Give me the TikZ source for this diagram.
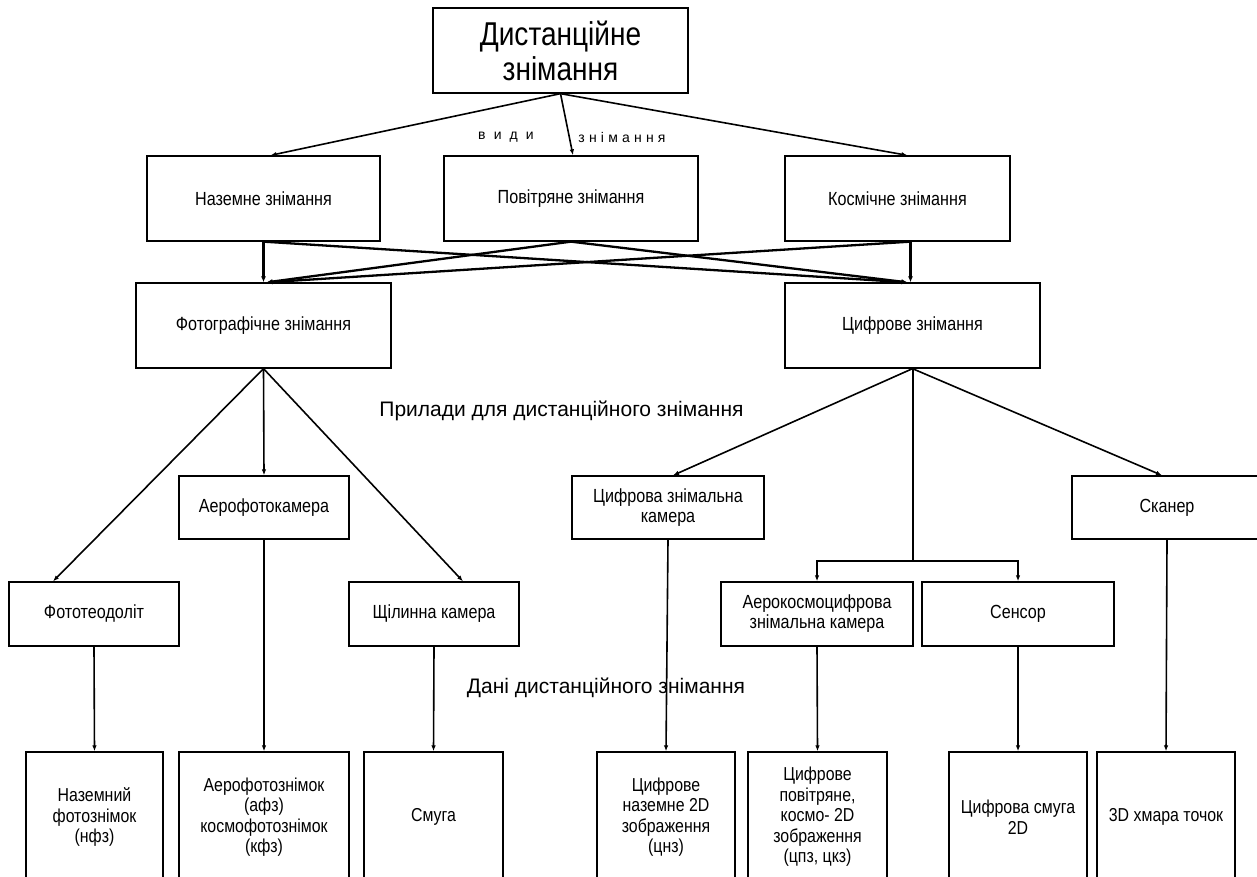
\documentclass[tikz,border=0pt]{standalone}
\usepackage{fontspec}
\setmainfont{Liberation Sans}
\newfontfamily\nar[FakeStretch=0.85]{Liberation Sans}
\newfontfamily\spc[LetterSpace=30]{Liberation Sans}
\usetikzlibrary{arrows.meta}
\begin{document}
\begin{tikzpicture}[x=1pt,y=-1pt,
  box/.style={draw, line width=1.3pt, inner sep=0pt, align=center, font=\nar\fontsize{19}{20}\selectfont},
  bbox/.style={box, minimum height=130pt, font=\nar\fontsize{18.7}{20.5}\selectfont},
  arr/.style={line width=1.6pt, -{Latex[length=6pt,width=4.5pt]}},
  thick arr/.style={line width=2.3pt, -{Latex[length=6pt,width=5pt]}},
  lbl/.style={font=\fontsize{21}{24}\selectfont, inner sep=0pt}]
\useasboundingbox (0,0) rectangle (1257,877);
\fill[white] (0,0) rectangle (1257,877);
% top
\node[box, minimum width=255pt, minimum height=85pt, font=\nar\fontsize{33}{35}\selectfont] (top) at (560.5,50.5) {Дистанційне\\знімання};
% row 2
\node[box, minimum width=233pt, minimum height=85pt] (naz) at (263.5,198.5) {Наземне знімання};
\node[box, minimum width=254pt, minimum height=85pt] (pov) at (571,198.5) {Повітряне знімання};
\node[box, minimum width=225pt, minimum height=85pt] (kos) at (897.5,198.5) {Космічне знімання};
% row 3
\node[box, minimum width=255pt, minimum height=85pt] (foto) at (263.5,325.5) {Фотографічне знімання};
\node[box, minimum width=255pt, minimum height=85pt] (cyfr) at (912.5,325.5) {Цифрове знімання};
% instruments
\node[box, minimum width=170pt, minimum height=63pt] (aerocam) at (264,507.5) {Аерофотокамера};
\node[box, minimum width=192pt, minimum height=63pt] (czk) at (668,507.5) {Цифрова знімальна\\камера};
\node[box, minimum width=190pt, minimum height=63pt] (scan) at (1167,507.5) {Сканер};
\node[box, minimum width=170pt, minimum height=64pt] (teod) at (94,614) {Фототеодоліт};
\node[box, minimum width=170pt, minimum height=64pt] (shch) at (434,614) {Щілинна камера};
\node[box, minimum width=192pt, minimum height=64pt] (aks) at (817,614) {Аерокосмоцифрова\\знімальна камера};
\node[box, minimum width=192pt, minimum height=64pt] (sens) at (1018,614) {Сенсор};
% data
\node[bbox, minimum width=137pt] (b1) at (94.5,817) {Наземний\\фотознімок\\(нфз)};
\node[bbox, minimum width=170pt] (b2) at (264,817) {Аерофотознімок\\(афз)\\космофотознімок\\(кфз)};
\node[bbox, minimum width=139pt] (b3) at (433.5,817) {Смуга};
\node[bbox, minimum width=138pt] (b4) at (666,817) {Цифрове\\наземне 2D\\зображення\\(цнз)};
\node[bbox, minimum width=139pt] (b5) at (817.5,817) {Цифрове\\повітряне,\\космо- 2D\\зображення\\(цпз, цкз)};
\node[bbox, minimum width=138pt] (b6) at (1018,817) {Цифрова смуга\\2D};
\node[bbox, minimum width=138pt] (b7) at (1166,817) {3D хмара точок};
% labels
\node[lbl] (l1) at (561.5,411) {Прилади для дистанційного знімання};
\node[lbl] (l2) at (606,688) {Дані дистанційного знімання};
\node[font=\spc\fontsize{14}{16}\selectfont, inner sep=0pt] (l3) at (506,137) {в и д и};
\node[font=\spc\fontsize{14}{16}\selectfont, inner sep=0pt] (l4) at (622,137) {знімання};
% top arrows
\draw[arr] (top.south) -- ([xshift=7pt]naz.north);
\draw[arr] (top.south) -- ([xshift=2pt]pov.north);
\draw[arr] (top.south) -- ([xshift=10pt]kos.north);
% row2 -> row3
\coordinate (kb) at ([xshift=13pt]kos.south);
\draw[thick arr] (naz.south) -- (foto.north);
\draw[thick arr] (naz.south) -- ([xshift=-5pt]cyfr.north);
\draw[thick arr] (pov.south) -- ([xshift=3pt]foto.north);
\draw[thick arr] (pov.south) -- ([xshift=-5pt]cyfr.north);
\draw[thick arr] (kb) -- ([xshift=3pt]foto.north);
\draw[thick arr] (kb) -- (kb |- cyfr.north);
% row3 -> instruments
\draw[arr] (foto.south) -- (aerocam.north);
\draw[arr] (foto.south) -- ([xshift=-41pt]teod.north);
\draw[arr] (foto.south) -- ([xshift=29pt]shch.north);
\draw[arr] (cyfr.south) -- ([xshift=5pt]czk.north);
\draw[arr] (cyfr.south) -- ([xshift=-5pt]scan.north);
\coordinate (j) at (912.5,561);
\draw[line width=2pt] (cyfr.south) -- (j);
\draw[arr] (j) -| (aks.north);
\draw[arr] (j) -| (sens.north);
% instruments -> data
\draw[arr] (teod.south) -- (b1.north);
\draw[arr] (aerocam.south) -- (b2.north);
\draw[arr] (shch.south) -- (b3.north);
\draw[arr] (czk.south) -- (b4.north);
\draw[arr] (aks.south) -- (b5.north);
\draw[arr] (sens.south) -- (b6.north);
\draw[arr] (scan.south) -- (b7.north);
\end{tikzpicture}
\end{document}
